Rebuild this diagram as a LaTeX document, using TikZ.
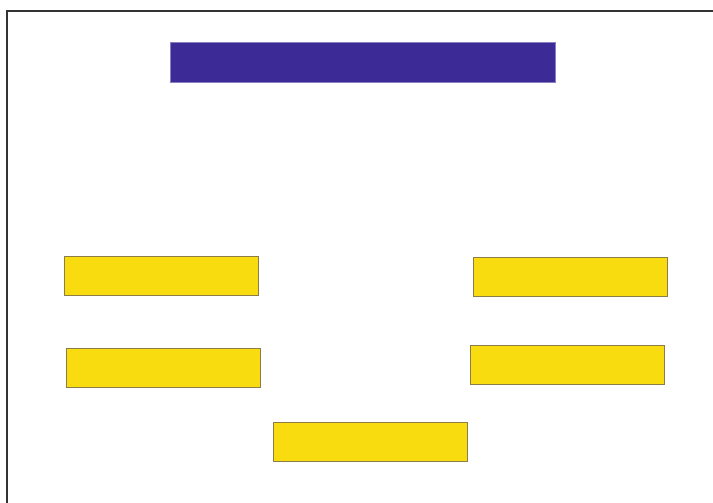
\documentclass[tikz,border=0pt]{standalone}
\definecolor{bluebox}{HTML}{3C2A96}
\definecolor{yelbox}{HTML}{F8DC10}
\definecolor{yelline}{HTML}{8C7C48}
\definecolor{frameline}{HTML}{333333}
\begin{document}
\begin{tikzpicture}[x=1pt,y=-1pt,
  ybox/.style={draw=yelline,line width=0.9pt,fill=yelbox,minimum width=194pt,minimum height=39pt,inner sep=0pt,outer sep=0pt},
  tbox/.style={draw=bluebox!60!white,line width=0.6pt,fill=bluebox,minimum width=385pt,minimum height=40pt,inner sep=0pt}]
\useasboundingbox (0,0) rectangle (713,503);
\fill[white] (0,0) rectangle (713,503);
\draw[frameline,line width=1.2pt] (7,503) -- (7,11) -- (713,11);
\node[tbox] (title) at (362.5,62) {};
\node[ybox] (l1) at (161,275.5) {};
\node[ybox] (l2) at (163,368) {};
\node[ybox] (r1) at (570,277) {};
\node[ybox] (r2) at (567,364.5) {};
\node[ybox] (b) at (370.5,442) {};
\end{tikzpicture}
\end{document}
